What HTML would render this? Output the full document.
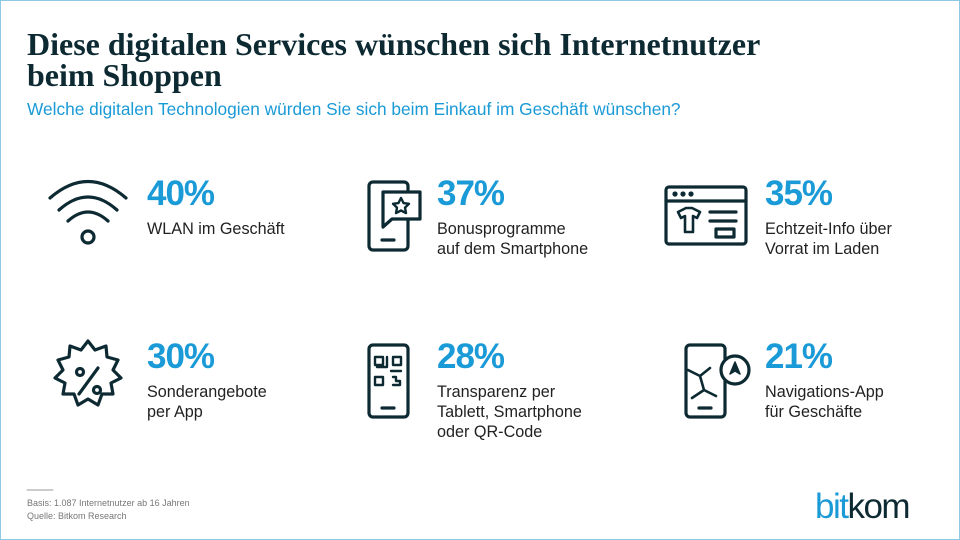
<!DOCTYPE html>
<html><head><meta charset="utf-8"><style>
body{margin:0;width:960px;height:540px;overflow:hidden;background:#fff;font-family:"Liberation Sans",sans-serif}
.f{position:absolute;left:0;top:0;width:958px;height:538px;border:1px solid #8ec9e6}
.t{position:absolute;left:27px;top:29px;font-family:"Liberation Serif",serif;font-weight:bold;font-size:32px;letter-spacing:0px;line-height:31px;color:#0d2a33}
.s{position:absolute;left:27px;top:99px;font-size:17.3px;color:#1a9ad6}
.p{position:absolute;font-size:35px;font-weight:bold;color:#1a9ad6;letter-spacing:-1px}
.l{position:absolute;font-size:16.2px;line-height:20px;color:#222}
.fn{position:absolute;left:27px;top:497px;font-size:9px;line-height:13px;color:#777}
.lg{position:absolute;left:815px;top:487px;font-size:35px;letter-spacing:-1.5px;font-family:"Liberation Sans",sans-serif}
</style></head><body><div class="f"></div>
<div class="t">Diese digitalen Services wünschen sich Internetnutzer<br>beim Shoppen</div>
<div class="s">Welche digitalen Technologien würden Sie sich beim Einkauf im Geschäft wünschen?</div>
<svg width="960" height="540" style="position:absolute;left:0;top:0" fill="none" stroke="#0d2a33" stroke-width="3.2" stroke-linecap="round" stroke-linejoin="round">
<path d="M50 198 Q88 165 126 198"/><path d="M59 210 Q88 184 117 210"/><path d="M68 221 Q88 203 108 221"/><circle cx="88" cy="237" r="6"/>
<rect x="369" y="182" width="39" height="68" rx="4"/><line x1="382" y1="240" x2="394" y2="240"/>
<path d="M383 192 H420 V219 H392 L383 227 Z" fill="#fff"/><path d="M401 198 l2.5 5 5.5 .8-4 3.8 1 5.5-5-2.6-5 2.6 1-5.5-4-3.8 5.5-.8z" stroke-width="2.4"/>
<rect x="666" y="187" width="80" height="57" rx="3"/><line x1="666" y1="201" x2="746" y2="201"/>
<circle cx="675" cy="194" r="1" fill="#0d2a33"/><circle cx="683" cy="194" r="1" fill="#0d2a33"/><circle cx="691" cy="194" r="1" fill="#0d2a33"/>
<path d="M678 212 l8-4 h6 l8 4-3 6-4-2 v16 h-8 v-16 l-4 2z" stroke-width="2.6"/>
<line x1="710" y1="212" x2="736" y2="212"/><line x1="710" y1="221" x2="736" y2="221"/><rect x="716" y="229" width="18" height="8"/>
<path d="M88 341 l7 9 11-4 1 11 11 3-5 10 8 8-10 5 2 11-11 0-4 11-10-6-10 6-4-11-11 0 2-11-10-5 8-8-5-10 11-3 1-11 11 4z"/>
<line x1="79" y1="394" x2="98" y2="368"/><circle cx="80" cy="372" r="3.5"/><circle cx="97" cy="390" r="3.5"/>
<rect x="369" y="345" width="39" height="72" rx="4"/><line x1="382" y1="408" x2="394" y2="408"/>
<rect x="375" y="357" width="8" height="8" stroke-width="2.4"/><rect x="393" y="357" width="8" height="8" stroke-width="2.4"/><rect x="375" y="377" width="8" height="8" stroke-width="2.4"/>
<path d="M393 377 h3 v4 h4 v4 h-7 M387 357 v10 h-10 M391 371 h10" stroke-width="2.4"/>
<rect x="686" y="345" width="39" height="72" rx="4"/><line x1="699" y1="408" x2="711" y2="408"/>
<path d="M688 370 l12 6 4 14 M700 376 l10-8 M692 398 l12-8 12 6" stroke-width="2.6"/>
<circle cx="735" cy="370" r="14" fill="#fff"/><path d="M735 362 l5 12-5-3-5 3z" fill="#0d2a33" stroke-width="1.5"/>
<line x1="27" y1="490" x2="53" y2="490" stroke="#999" stroke-width="1"/>
</svg>
<div class="p" style="left:147px;top:174px">40%</div><div class="l" style="left:147px;top:219px">WLAN im Geschäft</div>
<div class="p" style="left:437px;top:174px">37%</div><div class="l" style="left:437px;top:219px">Bonusprogramme<br>auf dem Smartphone</div>
<div class="p" style="left:765px;top:174px">35%</div><div class="l" style="left:765px;top:219px">Echtzeit-Info über<br>Vorrat im Laden</div>
<div class="p" style="left:147px;top:337px">30%</div><div class="l" style="left:147px;top:382px">Sonderangebote<br>per App</div>
<div class="p" style="left:437px;top:337px">28%</div><div class="l" style="left:437px;top:382px">Transparenz per<br>Tablett, Smartphone<br>oder QR-Code</div>
<div class="p" style="left:765px;top:337px">21%</div><div class="l" style="left:765px;top:382px">Navigations-App<br>für Geschäfte</div>
<div class="fn">Basis: 1.087 Internetnutzer ab 16 Jahren<br>Quelle: Bitkom Research</div>
<div class="lg"><span style="color:#1a9ad6">bit</span><span style="color:#0d2a33">kom</span></div>
</body></html>
